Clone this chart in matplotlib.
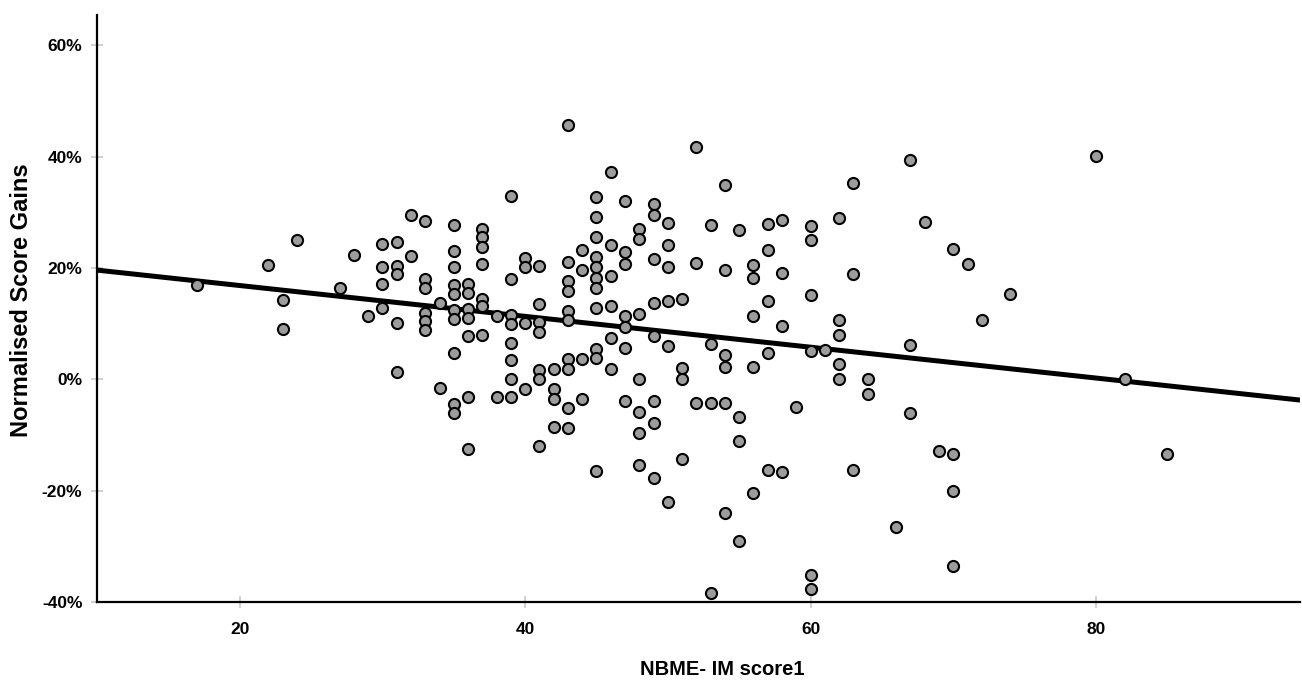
import matplotlib
matplotlib.use("Agg")
import matplotlib.pyplot as plt
from matplotlib.ticker import PercentFormatter
import numpy as np

plt.rcParams["axes.unicode_minus"] = False

# NBME-IM score (x) and normalised score gain in % (y)
nbme_score = [
    17, 22, 23, 23, 24, 27, 28, 29,
    30, 30, 30, 30,
    31, 31, 31, 31, 31,
    32, 32,
    33, 33, 33, 33, 33, 33,
    34, 34,
    35, 35, 35, 35, 35, 35, 35, 35, 35, 35,
    36, 36, 36, 36, 36, 36, 36,
    37, 37, 37, 37, 37, 37, 37,
    38, 38,
    39, 39, 39, 39, 39, 39, 39, 39,
    40, 40, 40, 40,
    41, 41, 41, 41, 41, 41, 41,
    42, 42, 42, 42,
    43, 43, 43, 43, 43, 43, 43, 43, 43, 43,
    44, 44, 44, 44,
    45, 45, 45, 45, 45, 45, 45, 45, 45, 45, 45,
    46, 46, 46, 46, 46, 46,
    47, 47, 47, 47, 47, 47, 47,
    48, 48, 48, 48, 48, 48, 48,
    49, 49, 49, 49, 49, 49, 49, 49,
    50, 50, 50, 50, 50, 50,
    51, 51, 51, 51,
    52, 52, 52,
    53, 53, 53, 53,
    54, 54, 54, 54, 54, 54,
    55, 55, 55, 55,
    56, 56, 56, 56, 56,
    57, 57, 57, 57, 57,
    58, 58, 58, 58,
    59,
    60, 60, 60, 60, 60, 60,
    61,
    62, 62, 62, 62, 62,
    63, 63, 63,
    64, 64,
    66,
    67, 67, 67,
    68, 69,
    70, 70, 70, 70,
    71, 72, 74, 80, 82, 85,
]

score_gain = [
    16.9, 20.6, 14.3, 9.1, 25.1, 16.5, 22.3, 11.3,
    24.3, 20.1, 17.2, 12.8,
    24.7, 20.4, 18.9, 10.2, 1.4,
    29.5, 22.1,
    28.4, 18.0, 16.5, 11.9, 10.4, 8.9,
    13.7, -1.5,
    27.8, 23.1, 20.1, 17.0, 15.4, 12.5, 10.8, 4.7, -4.5, -6.1,
    17.2, 15.6, 12.6, 11.0, 7.8, -3.2, -12.5,
    27.0, 25.5, 23.8, 20.7, 14.4, 13.1, 8.0,
    11.3, -3.2,
    32.9, 18.1, 11.6, 9.9, 6.6, 3.4, 0.0, -3.2,
    21.8, 20.1, 10.1, -1.7,
    20.4, 13.6, 10.3, 8.5, 1.7, 0.0, -11.9,
    1.8, -1.7, -3.5, -8.6,
    45.7, 21.1, 17.7, 15.9, 12.3, 10.6, 3.7, 1.8, -5.2, -8.8,
    23.3, 19.6, 3.6, -3.6,
    32.8, 29.2, 25.5, 21.9, 20.1, 18.3, 16.5, 12.8, 5.5, 3.8, -16.4,
    37.2, 24.2, 18.6, 13.1, 7.4, 1.9,
    32.1, 22.8, 20.8, 11.4, 9.4, 5.7, -3.8,
    27.0, 25.2, 11.7, 0.0, -5.8, -9.6, -15.4,
    31.5, 29.5, 21.7, 13.8, 7.8, -3.9, -7.8, -17.7,
    28.1, 24.1, 20.1, 14.1, 6.0, -22.1,
    14.4, 2.1, 0.1, -14.3,
    41.8, 20.9, -4.2,
    27.7, 6.4, -4.3, -38.4,
    34.9, 19.6, 4.4, 2.3, -4.3, -24.0,
    26.8, -6.7, -11.1, -29.0,
    20.5, 18.3, 11.4, 2.3, -20.5,
    28.0, 23.3, 14.0, 4.7, -16.2,
    28.6, 19.1, 9.5, -16.7,
    -4.9,
    27.6, 25.1, 15.1, 5.1, -35.1, -37.6,
    5.2,
    29.0, 10.6, 7.9, 2.7, 0.0,
    35.2, 19.0, -16.2,
    0.0, -2.7,
    -26.5,
    39.5, 6.1, -6.0,
    28.3, -12.9,
    23.4, -13.4, -20.1, -33.5,
    20.8, 10.7, 15.4, 40.1, 0.0, -13.4,
]

# linear fit line as drawn on the chart
fit_intercept = 22.4
fit_slope = -0.277

x_ticks = [20, 40, 60, 80]
y_ticks = [-40, -20, 0, 20, 40, 60]

fig = plt.figure(figsize=(13.02, 6.82), dpi=100)
ax = fig.add_axes([0.0745, 0.1173, 0.924, 0.861])

ax.scatter(nbme_score, score_gain, s=64, facecolor="#9c9c9c",
           edgecolor="black", linewidth=1.5, zorder=3)

xmin, xmax = 10, 94.3
fit_x = np.array([xmin, xmax])
ax.plot(fit_x, fit_intercept + fit_slope * fit_x, color="black", lw=3.6,
        solid_capstyle="butt", zorder=2)

ax.set_xlim(xmin, xmax)
ax.set_ylim(-40, 65.5)
ax.set_xticks(x_ticks)
ax.set_yticks(y_ticks)
ax.yaxis.set_major_formatter(PercentFormatter(decimals=0))

for side in ["top", "right"]:
    ax.spines[side].set_visible(False)
for side in ["left", "bottom"]:
    ax.spines[side].set_linewidth(1.6)
    ax.spines[side].set_color("black")

ax.tick_params(direction="inout", length=9, width=1.2, color="#c8c8c8",
               labelsize=12.5)
ax.tick_params(axis="x", pad=10)
ax.tick_params(axis="y", pad=6)
for lab in ax.get_xticklabels() + ax.get_yticklabels():
    lab.set_fontweight("bold")
    lab.set_fontfamily("Liberation Sans")

ax.set_xlabel("NBME- IM score1", fontsize=14.5, fontweight="bold",
              family="Liberation Sans")
ax.xaxis.set_label_coords(0.52, -0.098)
ax.set_ylabel("Normalised Score Gains", fontsize=17, fontweight="bold",
              family="Liberation Sans")
ax.yaxis.set_label_coords(-0.053, 0.514)

fig.savefig("out.png", dpi=100)
